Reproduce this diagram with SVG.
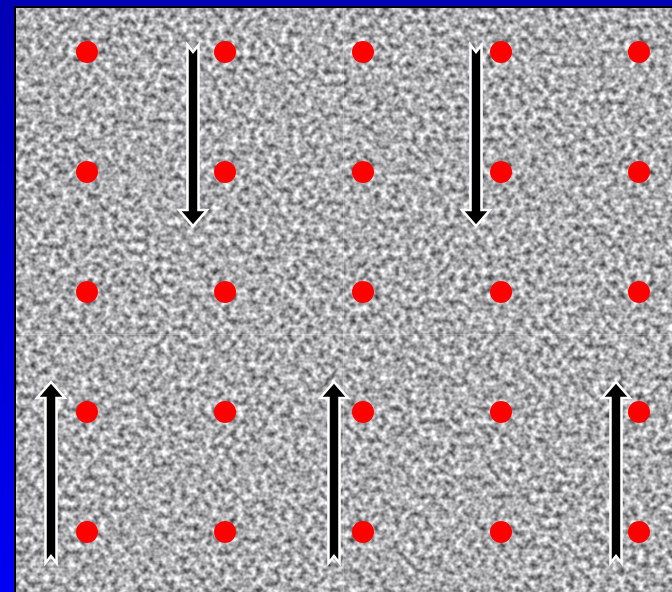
<svg xmlns="http://www.w3.org/2000/svg" width="672" height="592" viewBox="0 0 672 592">
<defs>
<linearGradient id="bg" x1="0" y1="0" x2="0" y2="1">
<stop offset="0" stop-color="#0000b4"/>
<stop offset="1" stop-color="#0000f4"/>
</linearGradient>
<filter id="noise" x="0" y="0" width="1" height="1" color-interpolation-filters="sRGB">
<feTurbulence type="fractalNoise" baseFrequency="0.16" numOctaves="2" seed="7" result="t"/>
<feColorMatrix in="t" type="matrix" values="1.15 0 0 0 0.1  1.15 0 0 0 0.1  1.15 0 0 0 0.11  0 0 0 0 1" result="g"/>
<feGaussianBlur in="g" stdDeviation="0.6"/>
</filter>
<style>
.dot{fill:#ff0000}
.arrow{fill:#000;stroke:#fff;stroke-width:2.5;stroke-linejoin:miter}
.seam{stroke:#ffffff;stroke-opacity:0.2;stroke-width:1}
</style>
<polygon id="down" class="arrow" points="-5.5,0 0,7 5.5,0 5.5,165 14,165 0,181 -14,165 -5.5,165"/>
<polygon id="up" class="arrow" points="-5.5,0 0,-7 5.5,0 5.5,-165 14,-165 0,-181 -14,-165 -5.5,-165"/>
</defs>
<rect width="672" height="592" fill="url(#bg)"/>
<rect x="14" y="6" width="658" height="586" fill="#000"/>
<g id="texture">
<rect x="16" y="8" width="656" height="584" fill="#a8a8a8"/>
<rect x="16" y="8" width="656" height="584" filter="url(#noise)"/>
<line class="seam" x1="16" y1="334.5" x2="672" y2="334.5"/>
<line class="seam" x1="343.5" y1="8" x2="343.5" y2="592"/>
</g>
<g id="dots">
<circle class="dot" cx="87" cy="52" r="11"/><circle class="dot" cx="225" cy="52" r="11"/><circle class="dot" cx="363" cy="52" r="11"/><circle class="dot" cx="501" cy="52" r="11"/><circle class="dot" cx="639" cy="52" r="11"/>
<circle class="dot" cx="87" cy="172" r="11"/><circle class="dot" cx="225" cy="172" r="11"/><circle class="dot" cx="363" cy="172" r="11"/><circle class="dot" cx="501" cy="172" r="11"/><circle class="dot" cx="639" cy="172" r="11"/>
<circle class="dot" cx="87" cy="292" r="11"/><circle class="dot" cx="225" cy="292" r="11"/><circle class="dot" cx="363" cy="292" r="11"/><circle class="dot" cx="501" cy="292" r="11"/><circle class="dot" cx="639" cy="292" r="11"/>
<circle class="dot" cx="87" cy="412" r="11"/><circle class="dot" cx="225" cy="412" r="11"/><circle class="dot" cx="363" cy="412" r="11"/><circle class="dot" cx="501" cy="412" r="11"/><circle class="dot" cx="639" cy="412" r="11"/>
<circle class="dot" cx="87" cy="532" r="11"/><circle class="dot" cx="225" cy="532" r="11"/><circle class="dot" cx="363" cy="532" r="11"/><circle class="dot" cx="501" cy="532" r="11"/><circle class="dot" cx="639" cy="532" r="11"/>
</g>
<g id="arrows">
<use href="#down" x="193" y="45"/>
<use href="#down" x="476" y="45"/>
<use href="#up" x="51" y="563"/>
<use href="#up" x="334" y="563"/>
<use href="#up" x="616" y="563"/>
</g>
</svg>
